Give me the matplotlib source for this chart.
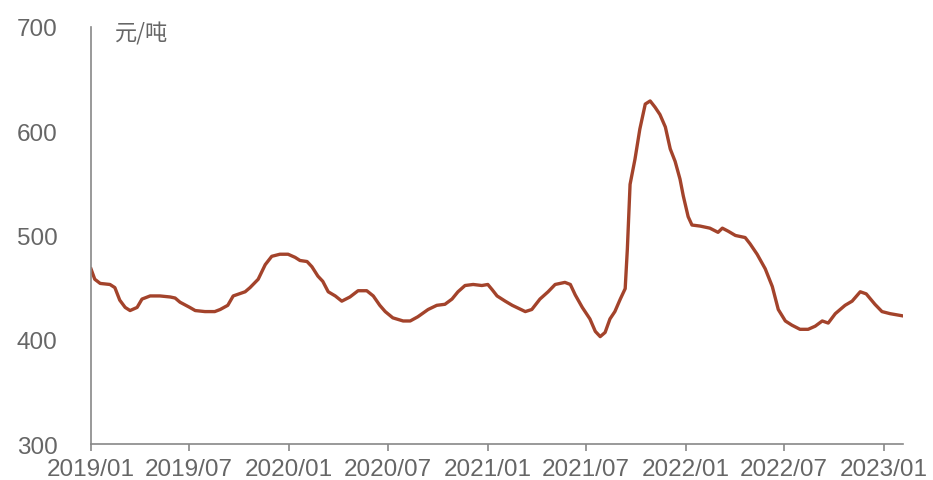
import matplotlib.pyplot as plt
import matplotlib.dates as mdates
import pandas as pd

plt.rcParams['font.family'] = ['Liberation Sans', 'Noto Sans CJK SC', 'DejaVu Sans']

# price, yuan per ton
dates = [
    '2019-01-01', '2019-01-08', '2019-01-18', '2019-02-05', '2019-02-14', '2019-02-23',
    '2019-03-05', '2019-03-14', '2019-03-27', '2019-04-05', '2019-04-20', '2019-05-08',
    '2019-05-27', '2019-06-05', '2019-06-14', '2019-07-02', '2019-07-12', '2019-07-30',
    '2019-08-17', '2019-08-27', '2019-09-10', '2019-09-20', '2019-10-12', '2019-10-21',
    '2019-11-05', '2019-11-18', '2019-11-30', '2019-12-15', '2019-12-30', '2020-01-12',
    '2020-01-21', '2020-02-03', '2020-02-12', '2020-02-23', '2020-03-03', '2020-03-13',
    '2020-03-26', '2020-04-07', '2020-04-22', '2020-05-07', '2020-05-23', '2020-06-04',
    '2020-06-16', '2020-06-26', '2020-07-10', '2020-07-29', '2020-08-11', '2020-08-25',
    '2020-09-13', '2020-09-29', '2020-10-14', '2020-10-27', '2020-11-07', '2020-11-20',
    '2020-12-05', '2020-12-21', '2021-01-01', '2021-01-09', '2021-01-18', '2021-02-02',
    '2021-02-15', '2021-03-11', '2021-03-23', '2021-04-07', '2021-04-22', '2021-05-05',
    '2021-05-23', '2021-06-02', '2021-06-11', '2021-06-24', '2021-07-08', '2021-07-18',
    '2021-07-27', '2021-08-05', '2021-08-14', '2021-08-23', '2021-09-02', '2021-09-11',
    '2021-09-15', '2021-09-20', '2021-09-29', '2021-10-08', '2021-10-18', '2021-10-27',
    '2021-11-05', '2021-11-14', '2021-11-24', '2021-12-03', '2021-12-12', '2021-12-21',
    '2021-12-27', '2022-01-05', '2022-01-12', '2022-01-27', '2022-02-14', '2022-03-01',
    '2022-03-09', '2022-03-20', '2022-04-02', '2022-04-20', '2022-04-29', '2022-05-12',
    '2022-05-27', '2022-06-09', '2022-06-20', '2022-07-03', '2022-07-15', '2022-07-30',
    '2022-08-14', '2022-08-27', '2022-09-09', '2022-09-20', '2022-10-03', '2022-10-21',
    '2022-11-03', '2022-11-18', '2022-11-29', '2022-12-15', '2022-12-28', '2023-01-12',
    '2023-02-03',
]
price = [
    468, 458, 454, 453, 450, 438,
    431, 428, 431, 439, 442, 442,
    441, 440, 436, 431, 428, 427,
    427, 429, 433, 442, 446, 450,
    458, 472, 480, 482, 482, 479,
    476, 475, 470, 461, 456, 446,
    442, 437, 441, 447, 447, 442,
    433, 427, 421, 418, 418, 422,
    429, 433, 434, 439, 446, 452,
    453, 452, 453, 448, 442, 437,
    433, 427, 429, 439, 446, 453,
    455, 453, 443, 431, 420, 408,
    403, 407, 420, 427, 439, 449,
    487, 549, 573, 602, 626, 629,
    623, 616, 604, 583, 571, 554,
    538, 518, 510, 509, 507, 503,
    507, 504, 500, 498, 492, 482,
    468, 451, 429, 418, 414, 410,
    410, 413, 418, 416, 425, 433,
    437, 446, 444, 434, 427, 425,
    423,
]
xtick_labels = ['2019/01', '2019/07', '2020/01', '2020/07', '2021/01',
                '2021/07', '2022/01', '2022/07', '2023/01']
yticks = [300, 400, 500, 600, 700]

x = pd.to_datetime(dates)
xticks = pd.to_datetime([s.replace('/', '-') + '-01' for s in xtick_labels])

fig = plt.figure(figsize=(9.33, 4.81), dpi=100)
ax = fig.add_axes([0.0975, 0.0748, 0.8705, 0.8672])

ax.plot(x, price, color='#A3432B', linewidth=2.4, solid_joinstyle='round')

ax.set_xlim(pd.Timestamp('2019-01-01'), pd.Timestamp('2023-02-05'))
ax.set_ylim(300, 700)
ax.set_xticks(xticks)
ax.set_xticklabels(xtick_labels)
ax.set_yticks(yticks)

for s in ['top', 'right']:
    ax.spines[s].set_visible(False)
for s in ['left', 'bottom']:
    ax.spines[s].set_color('#888888')
    ax.spines[s].set_linewidth(1.2)

ax.tick_params(axis='y', length=0, pad=24, labelsize=17.5, labelcolor='#666666')
ax.tick_params(axis='x', length=5, width=1.2, color='#888888', pad=5,
               labelsize=17.5, labelcolor='#666666')

ax.text(0.03, 0.985, '元/吨', transform=ax.transAxes, fontsize=16,
        color='#666666', va='center', ha='left',
        family=['Noto Sans CJK SC', 'DejaVu Sans'])

fig.savefig('out.png', dpi=100)
